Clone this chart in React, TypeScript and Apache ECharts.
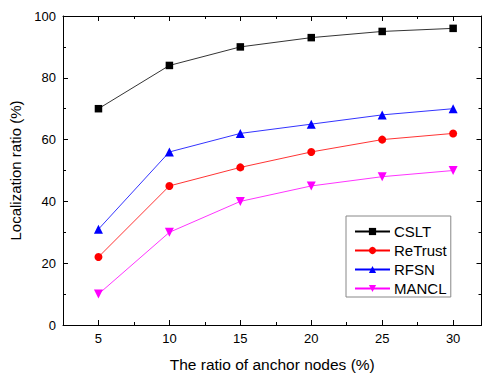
import React, { useEffect, useRef } from "react";
import * as echarts from "echarts";

const xValues = [5, 10, 15, 20, 25, 30];
const xMinorTicks = [7.5, 12.5, 17.5, 22.5, 27.5];
const cslt = [70, 84, 90, 93, 95, 96];
const retrust = [22, 45, 51, 56, 60, 62];
const rfsn = [31, 56, 62, 65, 68, 70];
const mancl = [10, 30, 40, 45, 48, 50];

const FONT = "Liberation Sans, Arial, sans-serif";

export default function App() {
  const ref = useRef<HTMLDivElement>(null);
  useEffect(() => {
    if (!ref.current) return;
    const chart = echarts.init(ref.current, undefined, { renderer: "svg" });
    const pair = (ys: number[]) => xValues.map((x, i) => [x, ys[i]]);
    const baseX = {
      type: "value" as const,
      min: 2.5,
      max: 32,
      splitLine: { show: false },
    };
    const axisLine = { show: true, lineStyle: { color: "#000", width: 1 } };
    chart.setOption({
      animation: false,
      textStyle: { fontFamily: FONT },
      grid: { left: 63, top: 16, right: 1.5, bottom: 49, containLabel: false, outerBoundsMode: "none" },
      xAxis: [
        {
          ...baseX,
          position: "bottom",
          axisLine,
          axisTick: { show: true, inside: true, length: 5, customValues: xValues, lineStyle: { color: "#000" } },
          axisLabel: { show: true, customValues: xValues, color: "#000", fontSize: 13, fontFamily: FONT, margin: 7 },
          name: "The ratio of anchor nodes (%)",
          nameLocation: "middle",
          nameGap: 31,
          nameTextStyle: { color: "#000", fontSize: 15.5, fontFamily: FONT },
        },
        {
          ...baseX,
          position: "bottom",
          axisLine: { show: false },
          axisTick: { show: true, inside: true, length: 3, customValues: xMinorTicks, lineStyle: { color: "#000" } },
          axisLabel: { show: false },
        },
        {
          ...baseX,
          position: "top",
          axisLine,
          axisTick: { show: true, inside: true, length: 5, customValues: xValues, lineStyle: { color: "#000" } },
          axisLabel: { show: false },
        },
        {
          ...baseX,
          position: "top",
          axisLine: { show: false },
          axisTick: { show: true, inside: true, length: 3, customValues: xMinorTicks, lineStyle: { color: "#000" } },
          axisLabel: { show: false },
        },
      ],
      yAxis: [
        {
          type: "value",
          position: "left",
          min: 0,
          max: 100,
          interval: 20,
          splitLine: { show: false },
          axisLine,
          axisTick: { show: true, inside: true, length: 5, lineStyle: { color: "#000" } },
          minorTick: { show: true, splitNumber: 2, length: 3, lineStyle: { color: "#000" } },
          minorSplitLine: { show: false },
          axisLabel: { color: "#000", fontSize: 13, fontFamily: FONT, margin: 7 },
          name: "Localization ratio (%)",
          nameLocation: "middle",
          nameGap: 37,
          nameTextStyle: { color: "#000", fontSize: 15, fontFamily: FONT },
        },
        {
          type: "value",
          position: "right",
          min: 0,
          max: 100,
          interval: 20,
          splitLine: { show: false },
          axisLine,
          axisTick: { show: true, inside: true, length: 5, lineStyle: { color: "#000" } },
          minorTick: { show: true, splitNumber: 2, length: 3, lineStyle: { color: "#000" } },
          axisLabel: { show: false },
        },
      ],
      legend: {
        orient: "vertical",
        left: 346,
        top: 216,
        backgroundColor: "#fff",
        borderColor: "#888",
        borderWidth: 1,
        borderRadius: 0,
        padding: [8, 4, 1, 8],
        itemWidth: 35,
        itemHeight: 9,
        itemGap: 4,
        textStyle: { color: "#000", fontSize: 15, fontFamily: FONT, padding: [0, 0, 0, -1] },
        data: ["CSLT", "ReTrust", "RFSN", "MANCL"],
      },
      series: [
        {
          name: "CSLT",
          type: "line",
          data: pair(cslt),
          symbol: "rect",
          symbolSize: 7.5,
          itemStyle: { color: "#000" },
          lineStyle: { color: "#000", width: 0.8 },
        },
        {
          name: "ReTrust",
          type: "line",
          data: pair(retrust),
          symbol: "circle",
          symbolSize: 8,
          itemStyle: { color: "#ff0000" },
          lineStyle: { color: "#ff0000", width: 0.8 },
        },
        {
          name: "RFSN",
          type: "line",
          data: pair(rfsn),
          symbol: "triangle",
          symbolSize: 9,
          itemStyle: { color: "#0000ff" },
          lineStyle: { color: "#0000ff", width: 0.8 },
        },
        {
          name: "MANCL",
          type: "line",
          data: pair(mancl),
          symbol: "triangle",
          symbolRotate: 180,
          symbolSize: 9,
          itemStyle: { color: "#ff00ff" },
          lineStyle: { color: "#ff00ff", width: 0.8 },
        },
      ],
    });
    return () => chart.dispose();
  }, []);
  return <div ref={ref} style={{ width: 483, height: 374, position: "absolute", left: 0, top: 0, background: "#fff" }} />;
}
